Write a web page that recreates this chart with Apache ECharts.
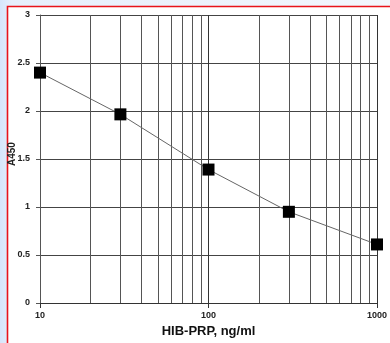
<!DOCTYPE html>
<html>
<head>
<meta charset="utf-8">
<script src="https://cdn.jsdelivr.net/npm/echarts@6/dist/echarts.min.js"></script>
<style>
  html, body { margin: 0; padding: 0; background: #e4eefc; }
  #chart { width: 390px; height: 343px; }
</style>
</head>
<body>
<div id="chart"></div>
<script>
// concentration (ng/ml) vs absorbance
var conc = [10, 30, 100, 300, 1000];
var a450 = [2.4, 1.965, 1.39, 0.95, 0.61];
var minorX = [20, 30, 40, 50, 60, 70, 80, 90, 200, 300, 400, 500, 600, 700, 800, 900];
var yTicks = [0, 0.5, 1, 1.5, 2, 2.5, 3];

var chart = echarts.init(document.getElementById("chart"));

var points = conc.map(function (c, i) { return [c, a450[i]]; });

var option = {
  animation: false,
  backgroundColor: "transparent",
  textStyle: { fontFamily: "Liberation Sans, Arial, sans-serif" },
  graphic: [
    {
      type: "rect",
      z: -10,
      shape: { x: 0, y: 0, width: 390, height: 343 },
      style: {
        fill: new echarts.graphic.LinearGradient(0, 0, 1, 0, [
          { offset: 0, color: "#d6e6fb" },
          { offset: 0.03, color: "#e6effc" },
          { offset: 1, color: "#f3f7fd" }
        ])
      }
    },
    {
      type: "rect",
      z: -9,
      shape: { x: 7.5, y: 6.5, width: 400, height: 400 },
      style: { fill: "#ffffff", stroke: "#e8141b", lineWidth: 1.6 }
    },
    {
      type: "text",
      x: 7,
      y: 166,
      rotation: Math.PI / 2,
      z: -8,
      style: { text: "A450", fill: "#222", font: "bold 10px Liberation Sans" }
    }
  ],
  grid: { left: 40, right: 5, top: 15, bottom: 40 },
  xAxis: {
    type: "log",
    logBase: 10,
    min: 10,
    max: 1000,
    name: "HIB-PRP, ng/ml",
    nameLocation: "middle",
    nameGap: 20,
    nameTextStyle: { fontSize: 13, fontWeight: "bold", color: "#111" },
    axisLine: { show: true, lineStyle: { color: "#333", width: 1 } },
    axisTick: { show: true, length: 5, lineStyle: { color: "#333" } },
    axisLabel: {
      fontSize: 9, fontWeight: "bold", color: "#222", margin: 8,
      formatter: function (v) { return String(Math.round(v)); }
    },
    splitLine: { show: true, lineStyle: { color: "#333", width: 1 } }
  },
  yAxis: {
    type: "value",
    min: 0,
    max: 3,
    interval: 0.5,
    axisLine: { show: true, lineStyle: { color: "#555", width: 1 } },
    axisTick: { show: true, length: 4, lineStyle: { color: "#555" } },
    axisLabel: {
      fontSize: 9, fontWeight: "bold", color: "#222", margin: 10,
      formatter: function (v) { return yTicks.indexOf(v) >= 0 ? String(v) : ""; }
    },
    splitLine: { show: true, lineStyle: { color: "#444", width: 1 } }
  },
  series: [
    {
      type: "line",
      data: points,
      symbol: "rect",
      symbolSize: 12,
      itemStyle: { color: "#000" },
      lineStyle: { color: "#666", width: 1 },
      z: 5,
      markLine: {
        silent: true,
        symbol: "none",
        label: { show: false },
        lineStyle: { color: "#555", width: 1, type: "solid" },
        data: minorX.map(function (v) { return { xAxis: v }; })
      }
    }
  ]
};

chart.setOption(option);
</script>
</body>
</html>
